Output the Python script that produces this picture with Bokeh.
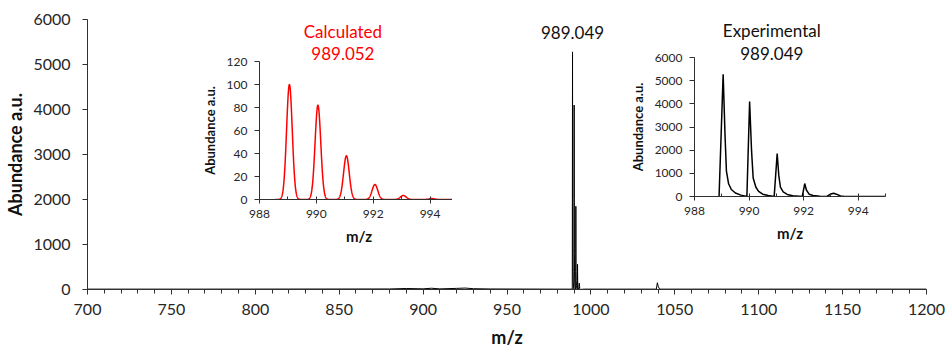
import numpy as np
from bokeh.plotting import figure
from bokeh.layouts import column
from bokeh.models import Range1d, SingleIntervalTicker, Label
from bokeh.embed import file_html
from bokeh.resources import INLINE

FONT = "Lato"
TXT = "#262626"

# ---------------- data ----------------
# experimental isotope cluster profile (m/z, abundance)
exp_mz = [988.90, 989.05, 989.12, 989.17, 989.25, 989.35, 989.50, 989.70, 989.92,
          990.02, 990.09, 990.15, 990.25, 990.35, 990.50, 990.70, 990.92,
          991.03, 991.09, 991.15, 991.25, 991.40, 991.60, 991.95,
          992.04, 992.10, 992.20, 992.35, 992.60, 992.85,
          993.00, 993.10, 993.20, 993.35, 993.50, 995.00]
exp_ab = [0, 5280, 2600, 1100, 550, 300, 150, 60, 0,
          4100, 2000, 800, 400, 220, 100, 40, 0,
          1850, 900, 400, 200, 90, 30, 0,
          560, 280, 100, 40, 15, 0,
          110, 140, 100, 20, 0, 0]

# calculated isotope pattern (peak centres, relative abundance)
calc_mz = [989.052, 990.055, 991.057, 992.06, 993.06, 994.06]
calc_ab = [100, 82, 38, 13, 3.5, 0.8]
calc_sigma = 0.1

# baseline of the full spectrum outside the cluster
left_mz = [700, 760, 820, 880, 890, 900, 905, 910, 920, 925, 930, 940, 960, 980, 988.8]
left_ab = [8, 8, 10, 12, 22, 15, 28, 14, 25, 32, 18, 12, 10, 8, 8]
right_mz = [996, 1010, 1039, 1039.6, 1040.2, 1041, 1060, 1100, 1150, 1200]
right_ab = [8, 8, 8, 150, 60, 8, 8, 8, 8, 8]

main_mz = left_mz + exp_mz[:-1] + right_mz
main_ab = left_ab + exp_ab[:-1] + right_ab


def style_axes(f, tick_size, label_size):
    for ax in (f.xaxis, f.yaxis):
        ax.axis_line_color = "#303030"
        ax.major_tick_line_color = "#303030"
        ax.minor_tick_line_color = "#303030"
        ax.major_label_text_font = FONT
        ax.major_label_text_font_size = tick_size
        ax.major_label_text_color = TXT
        ax.axis_label_text_font = FONT
        ax.axis_label_text_font_size = label_size
        ax.axis_label_text_font_style = "bold"
        ax.axis_label_text_color = "#111111"
        ax.major_tick_in = 0
    f.xgrid.visible = False
    f.ygrid.visible = False
    f.outline_line_color = None


# ---------------- main figure ----------------
p = figure(width=949, height=351, x_range=Range1d(700, 1200), y_range=Range1d(0, 6000),
           output_backend="svg", toolbar_location=None,
           min_border_left=87, min_border_right=21, min_border_top=19, min_border_bottom=62)
p.line(main_mz, main_ab, color="black", line_width=1)
style_axes(p, "16px", "18px")
p.xaxis.ticker = SingleIntervalTicker(interval=50, num_minor_ticks=5)
p.yaxis.ticker = SingleIntervalTicker(interval=1000, num_minor_ticks=0)
p.xaxis.major_tick_out = 5
p.xaxis.minor_tick_out = 4
p.xaxis.minor_tick_in = 0
p.yaxis.major_tick_out = 5
p.yaxis.minor_tick_out = 0
p.xaxis.major_label_standoff = 9
p.yaxis.major_label_standoff = 12
p.xaxis.axis_label = "m/z"
p.yaxis.axis_label = "Abundance a.u."
p.xaxis.axis_label_standoff = 8
p.yaxis.axis_label_standoff = 4


def main_label(x, y, text, color):
    p.add_layout(Label(x=x, y=y, text=text, text_align="center", text_baseline="middle",
                       text_font=FONT, text_font_size="17px", text_color=color))


main_label(989.049, 5720, "989.049", "#111111")
main_label(852.2, 5733, "Calculated", "#ff0000")
main_label(852.2, 5244, "989.052", "#ff0000")
main_label(1107.8, 5756, "Experimental", "#111111")
main_label(1107.8, 5244, "989.049", "#111111")


def inset(left, top, fw, fh, bl, br, bt, bb, yr, ytick):
    f = figure(frame_width=fw, frame_height=fh, x_range=Range1d(988, 995), y_range=Range1d(0, yr),
               output_backend="svg", toolbar_location=None,
               min_border_left=bl, min_border_right=br, min_border_top=bt, min_border_bottom=bb)
    f.background_fill_alpha = 0
    f.border_fill_alpha = 0
    style_axes(f, "12px", "13px")
    f.xaxis.ticker = SingleIntervalTicker(interval=2, num_minor_ticks=2)
    f.yaxis.ticker = SingleIntervalTicker(interval=ytick, num_minor_ticks=0)
    f.xaxis.major_tick_out = 4
    f.xaxis.minor_tick_out = 0
    f.xaxis.minor_tick_in = 3
    f.yaxis.major_tick_out = 5
    f.yaxis.minor_tick_out = 0
    f.xaxis.major_label_standoff = 6
    f.yaxis.major_label_standoff = 7
    f.xaxis.axis_label = "m/z"
    f.yaxis.axis_label = "Abundance a.u."
    f.xaxis.axis_label_text_font_size = "15px"
    f.xaxis.axis_label_standoff = 6
    f.yaxis.axis_label_standoff = 6
    f.styles = {"position": "absolute", "left": f"{left}px", "top": f"{top}px"}
    return f


# calculated inset
calc = inset(172, 10, 199, 138, 68, 13, 51, 61, 120, 20)
grid = np.arange(988.55, 995.0001, 0.005)
prof = np.zeros_like(grid)
for c, h in zip(calc_mz, calc_ab):
    prof += h * np.exp(-0.5 * ((grid - c) / calc_sigma) ** 2)
calc.line(grid, prof, color="#ff0000", line_width=1.5)

# experimental inset
expf = inset(607, 8, 191, 139, 71, 23, 49, 62, 6000, 1000)
expf.line(exp_mz, exp_ab, color="black", line_width=1.5)

layout = column(p, calc, expf, styles={"position": "relative"})
open("out.html", "w").write(file_html(layout, INLINE))
